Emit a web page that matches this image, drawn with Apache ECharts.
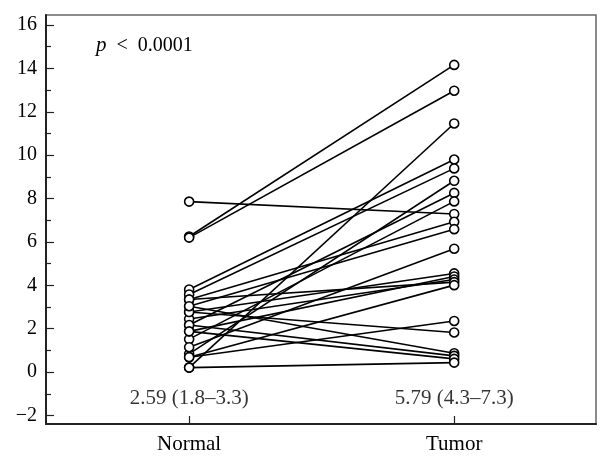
<!DOCTYPE html>
<html>
<head>
<meta charset="utf-8">
<script src="https://cdn.jsdelivr.net/npm/echarts@6/dist/echarts.min.js"></script>
<style>
html,body{margin:0;padding:0;background:#fff;}
#chart{width:611px;height:463px;}
</style>
</head>
<body>
<div id="chart"></div>
<script>
// ---- data ----
var categories = ['Normal', 'Tumor'];
var normalValues = [6.25, 6.20, 0.21, 3.81, 3.58, 0.84, 2.17, 1.52, 7.86, 3.35, 3.04, 1.15, 2.77, 1.88, 2.45, 3.35, 0.69, 0.69, 2.77, 3.04, 2.17, 1.88, 0.21];
var tumorValues  = [14.16, 12.97, 11.46, 9.80, 9.39, 8.82, 8.26, 7.87, 7.29, 6.93, 6.59, 5.69, 4.55, 4.41, 4.27, 4.15, 4.01, 2.36, 1.83, 0.87, 0.75, 0.61, 0.44];
var summaryLabels = ['2.59 (1.8\u20133.3)', '5.79 (4.3\u20137.3)'];
var summaryY = -1.2;
var yMajorTicks = [-2, 0, 2, 4, 6, 8, 10, 12, 14, 16];
var yMinorTicks = [-1, 1, 3, 5, 7, 9, 11, 13, 15];
var pText = '\u2002<\u20020.0001';

// ---- chart ----
var FONT = 'Liberation Serif';
var chart = echarts.init(document.getElementById('chart'), null, {renderer: 'canvas'});

var series = [];
for (var i = 0; i < normalValues.length; i++) {
  series.push({
    type: 'line',
    data: [[0, normalValues[i]], [1, tumorValues[i]]],
    showSymbol: false,
    symbol: 'none',
    lineStyle: {color: '#000', width: 1.6},
    silent: true,
    z: 2
  });
}
var pts = [];
for (var j = 0; j < normalValues.length; j++) {
  pts.push([0, normalValues[j]]);
  pts.push([1, tumorValues[j]]);
}
series.push({
  type: 'scatter',
  data: pts,
  symbol: 'circle',
  symbolSize: 9,
  itemStyle: {color: '#fff', borderColor: '#000', borderWidth: 1.6, opacity: 1},
  z: 5
});
series.push({
  type: 'scatter',
  data: [[0, summaryY], [1, summaryY]],
  symbolSize: 0,
  label: {
    show: true,
    position: 'inside',
    formatter: function (p) { return summaryLabels[p.dataIndex]; },
    color: '#000',
    fontFamily: FONT,
    fontSize: 21
  },
  z: 6
});

var yMin = -2.39, yMax = 16.46;

chart.setOption({
  animation: false,
  backgroundColor: '#fff',
  grid: {left: 46, right: 15, top: 15, bottom: 39, show: true, borderColor: '#666', borderWidth: 1.5, containLabel: false},
  xAxis: {
    type: 'value',
    min: -0.54,
    max: 1.535,
    splitLine: {show: false},
    axisLine: {show: true, onZero: false, lineStyle: {color: '#222', width: 2}},
    axisTick: {show: true, inside: true, length: 8, customValues: [0, 1], lineStyle: {color: '#222', width: 1.2}},
    axisLabel: {
      customValues: [0, 1],
      formatter: function (v) { return categories[Math.round(v)]; },
      color: '#000', fontFamily: FONT, fontSize: 21, margin: 10
    }
  },
  yAxis: [{
    type: 'value',
    min: yMin,
    max: yMax,
    splitLine: {show: false},
    axisLine: {show: true, onZero: false, lineStyle: {color: '#222', width: 2}},
    axisTick: {show: true, inside: true, length: 8, customValues: yMajorTicks, lineStyle: {color: '#222', width: 1.2}},
    axisLabel: {
      customValues: yMajorTicks,
      formatter: function (v) { return String(v).replace('-', '\u2212'); },
      color: '#000', fontFamily: FONT, fontSize: 20, margin: 9
    }
  }, {
    type: 'value',
    position: 'left',
    min: yMin,
    max: yMax,
    splitLine: {show: false},
    axisLine: {show: false, onZero: false},
    axisTick: {show: true, inside: true, length: 5, customValues: yMinorTicks, lineStyle: {color: '#222', width: 1.2}},
    axisLabel: {show: false}
  }],
  graphic: [{
    type: 'text',
    left: 96,
    top: 35,
    style: {
      text: '{i|p}{n|' + pText + '}',
      rich: {
        i: {fontFamily: FONT, fontStyle: 'italic', fontSize: 21, fill: '#000'},
        n: {fontFamily: FONT, fontSize: 20, fill: '#000'}
      }
    }
  }],
  series: series
});
</script>
</body>
</html>
